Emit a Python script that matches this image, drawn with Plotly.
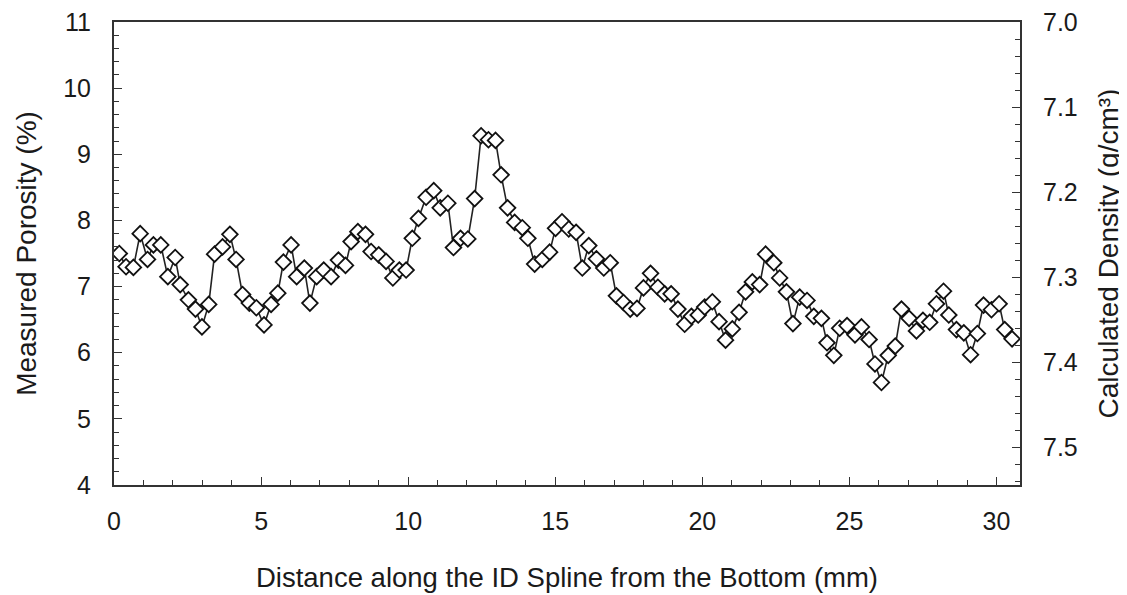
import plotly.graph_objects as go

distance_mm = [
    0.18, 0.41, 0.66, 0.89, 1.14, 1.34, 1.59, 1.83, 2.08, 2.25, 2.53, 2.77, 2.99, 3.22, 3.42, 3.69, 3.94,
    4.15, 4.37, 4.60, 4.84, 5.10, 5.34, 5.57, 5.76, 6.02, 6.21, 6.47, 6.66, 6.89, 7.13, 7.38, 7.63, 7.87,
    8.06, 8.29, 8.55, 8.74, 9.00, 9.25, 9.48, 9.70, 9.93, 10.14, 10.35, 10.61, 10.87, 11.09, 11.35, 11.54,
    11.78, 12.03, 12.26, 12.48, 12.73, 12.97, 13.16, 13.38, 13.62, 13.88, 14.07, 14.30, 14.56, 14.81,
    15.01, 15.23, 15.46, 15.71, 15.92, 16.14, 16.40, 16.65, 16.87, 17.08, 17.32, 17.55, 17.78, 18.00,
    18.24, 18.49, 18.72, 18.94, 19.17, 19.40, 19.63, 19.86, 20.08, 20.34, 20.57, 20.79, 21.02, 21.25,
    21.47, 21.70, 21.95, 22.15, 22.43, 22.63, 22.86, 23.08, 23.31, 23.56, 23.79, 24.05, 24.24, 24.47,
    24.67, 24.92, 25.19, 25.41, 25.67, 25.87, 26.09, 26.32, 26.56, 26.77, 27.03, 27.28, 27.50, 27.73,
    27.96, 28.20, 28.38, 28.64, 28.89, 29.12, 29.35, 29.56, 29.83, 30.09, 30.28, 30.53,
]

porosity_pct = [
    7.50, 7.30, 7.29, 7.80, 7.41, 7.63, 7.63, 7.15, 7.44, 7.03, 6.80, 6.66, 6.39, 6.73, 7.49, 7.60, 7.79,
    7.41, 6.88, 6.75, 6.68, 6.42, 6.73, 6.90, 7.37, 7.63, 7.15, 7.28, 6.75, 7.15, 7.25, 7.15, 7.40, 7.32,
    7.68, 7.83, 7.79, 7.53, 7.48, 7.38, 7.13, 7.25, 7.25, 7.73, 8.03, 8.35, 8.45, 8.19, 8.26, 7.59,
    7.73, 7.72, 8.33, 9.28, 9.22, 9.21, 8.69, 8.19, 7.97, 7.89, 7.73, 7.34, 7.41, 7.52,
    7.88, 7.98, 7.87, 7.82, 7.28, 7.62, 7.42, 7.28, 7.36, 6.86, 6.76, 6.66, 6.67, 6.98,
    7.20, 6.99, 6.89, 6.89, 6.66, 6.43, 6.55, 6.57, 6.69, 6.77, 6.47, 6.19, 6.36, 6.61,
    6.92, 7.07, 7.03, 7.49, 7.36, 7.13, 6.92, 6.44, 6.84, 6.79, 6.55, 6.52, 6.15, 5.96,
    6.37, 6.41, 6.27, 6.39, 6.20, 5.83, 5.55, 5.96, 6.10, 6.66, 6.52, 6.33, 6.49, 6.46,
    6.74, 6.93, 6.57, 6.35, 6.30, 5.97, 6.29, 6.72, 6.65, 6.74, 6.35, 6.21,
]

porosity_ticks = [4, 5, 6, 7, 8, 9, 10, 11]
density_ticks = [7.0, 7.1, 7.2, 7.3, 7.4, 7.5]
distance_ticks = [0, 5, 10, 15, 20, 25, 30]

FONT = "Liberation Sans, Arial, sans-serif"
TXT = "#1a1a1a"
AX = "#333333"

fig = go.Figure()
fig.add_trace(go.Scatter(
    x=distance_mm, y=porosity_pct, mode="lines+markers",
    line=dict(color="#222222", width=1.6),
    marker=dict(symbol="diamond", size=12, color="white",
                line=dict(color="#111111", width=1.8)),
    showlegend=False, hoverinfo="x+y",
))
# empty trace so the density axis is drawn
fig.add_trace(go.Scatter(x=[None], y=[None], yaxis="y2", showlegend=False, hoverinfo="skip"))

# page body adds an 8 px offset; margins compensate for it
fig.update_layout(
    width=1127, height=595,
    margin=dict(l=106, r=115, t=14, b=118),
    paper_bgcolor="white", plot_bgcolor="white",
    font=dict(family=FONT, size=25, color=TXT),
    xaxis=dict(
        range=[0, 30.8], tickvals=distance_ticks, ticks="inside", ticklen=8, tickwidth=1.2,
        tickcolor=AX, minor=dict(dtick=1, ticks="inside", ticklen=5, tickcolor=AX),
        showline=True, linecolor=AX, linewidth=2, mirror=True, showgrid=False, zeroline=False,
        ticklabelstandoff=13, automargin=False, ticklabeloverflow="allow",
        title=dict(text="Distance along the ID Spline from the Bottom (mm)",
                   font=dict(size=27.5), standoff=34),
    ),
    yaxis=dict(
        range=[4, 11], tickvals=porosity_ticks, ticks="inside", ticklen=8, tickwidth=1.2,
        tickcolor=AX, minor=dict(dtick=0.2, ticks="inside", ticklen=5, tickcolor=AX),
        showline=True, linecolor=AX, linewidth=2, mirror=True, showgrid=False, zeroline=False,
        ticklabelstandoff=16, automargin=False, ticklabeloverflow="allow",
        title=dict(text="Measured Porosity (%)", font=dict(size=28), standoff=18),
    ),
    yaxis2=dict(
        overlaying="y", side="right", range=[7.5444, 7.0], tickvals=density_ticks,
        tickformat=".1f", ticks="inside", ticklen=8, tickwidth=1.2, tickcolor=AX,
        minor=dict(dtick=0.02, ticks="inside", ticklen=5, tickcolor=AX),
        showline=True, linecolor=AX, linewidth=2, showgrid=False, zeroline=False,
        ticklabelstandoff=16, automargin=False, ticklabeloverflow="allow",
        title=dict(text="Calculated Density (g/cm³)", font=dict(size=28), standoff=22),
    ),
)

fig.write_html("out.html")
